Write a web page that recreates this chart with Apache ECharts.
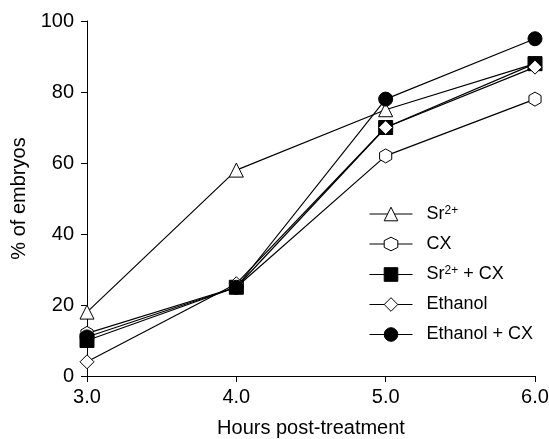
<!DOCTYPE html>
<html>
<head>
<meta charset="utf-8">
<script src="https://cdn.jsdelivr.net/npm/echarts@6/dist/echarts.min.js"></script>
<style>
  html, body { margin: 0; padding: 0; background: #fff; }
  #chart { width: 549px; height: 439px; }
</style>
</head>
<body>
<div id="chart"></div>
<script>
// hours post-treatment
const hours = [3.0, 4.0, 5.0, 6.0];

// % of embryos per treatment
const sr = [18, 58, 75, 88];
const cx = [12, 25, 62, 78];
const srCx = [10, 25, 70, 88];
const ethanol = [4, 26, 70, 87];
const ethanolCx = [11, 25, 78, 95];

const hexagon = 'path://M0,-1L0.866,-0.5L0.866,0.5L0,1L-0.866,0.5L-0.866,-0.5Z';

const chart = echarts.init(document.getElementById('chart'));

function mk(name, data, symbol, fill) {
  return {
    name: name,
    type: 'line',
    data: hours.map((h, i) => [h, data[i]]),
    symbol: symbol,
    symbolSize: 14,
    symbolKeepAspect: true,
    showAllSymbol: true,
    lineStyle: { color: '#000', width: 1.2 },
    itemStyle: { color: fill, borderColor: '#000', borderWidth: 1 },
    emphasis: { disabled: true },
    z: 2
  };
}

const fontFam = '"Liberation Sans", Arial, sans-serif';

chart.setOption({
  animation: false,
  backgroundColor: '#fff',
  grid: { left: 87, right: 14, top: 21, bottom: 63, outerBoundsMode: 'none', containLabel: false },
  legend: {
    orient: 'vertical',
    left: 364,
    top: 199.5,
    itemWidth: 43,
    itemHeight: 17,
    itemGap: 12,
    itemStyle: { borderWidth: 1, borderColor: '#000' },
    lineStyle: { width: 1, color: '#000' },
    data: ['Sr', 'CX', 'SrCX', 'Ethanol', 'Ethanol + CX'],
    formatter: function (n) {
      if (n === 'Sr') return '{g|}{t|Sr}{s|2+}';
      if (n === 'SrCX') return '{g|}{t|Sr}{s|2+}{t| + CX}';
      return '{g|}{t|' + n + '}';
    },
    textStyle: {
      color: '#000',
      fontFamily: fontFam,
      fontSize: 18,
      rich: {
        g: { width: 9 },
        t: { fontSize: 18, fontFamily: fontFam, color: '#000' },
        s: { fontSize: 12, fontFamily: fontFam, color: '#000', verticalAlign: 'top', padding: [0, 0, 7, 0] }
      }
    }
  },
  xAxis: {
    type: 'value',
    min: 3,
    max: 6,
    interval: 1,
    name: 'Hours post-treatment',
    nameLocation: 'middle',
    nameGap: 42,
    nameTextStyle: { color: '#000', fontFamily: fontFam, fontSize: 20 },
    axisLine: { lineStyle: { color: '#000', width: 1 } },
    axisTick: { show: true, length: 6, lineStyle: { color: '#000' } },
    axisLabel: { color: '#000', fontFamily: fontFam, fontSize: 20, margin: 11, formatter: v => v.toFixed(1) },
    splitLine: { show: false }
  },
  yAxis: {
    type: 'value',
    min: 0,
    max: 100,
    interval: 20,
    name: '% of embryos',
    nameLocation: 'middle',
    nameGap: 57,
    nameTextStyle: { color: '#000', fontFamily: fontFam, fontSize: 20 },
    axisLine: { show: true, lineStyle: { color: '#000', width: 1 } },
    axisTick: { show: true, length: 6, lineStyle: { color: '#000' } },
    axisLabel: { color: '#000', fontFamily: fontFam, fontSize: 20, margin: 13 },
    splitLine: { show: false }
  },
  series: [
    mk('Sr', sr, 'triangle', '#fff'),
    mk('CX', cx, hexagon, '#fff'),
    mk('SrCX', srCx, 'rect', '#000'),
    mk('Ethanol', ethanol, 'diamond', '#fff'),
    mk('Ethanol + CX', ethanolCx, 'circle', '#000')
  ]
});
</script>
</body>
</html>
